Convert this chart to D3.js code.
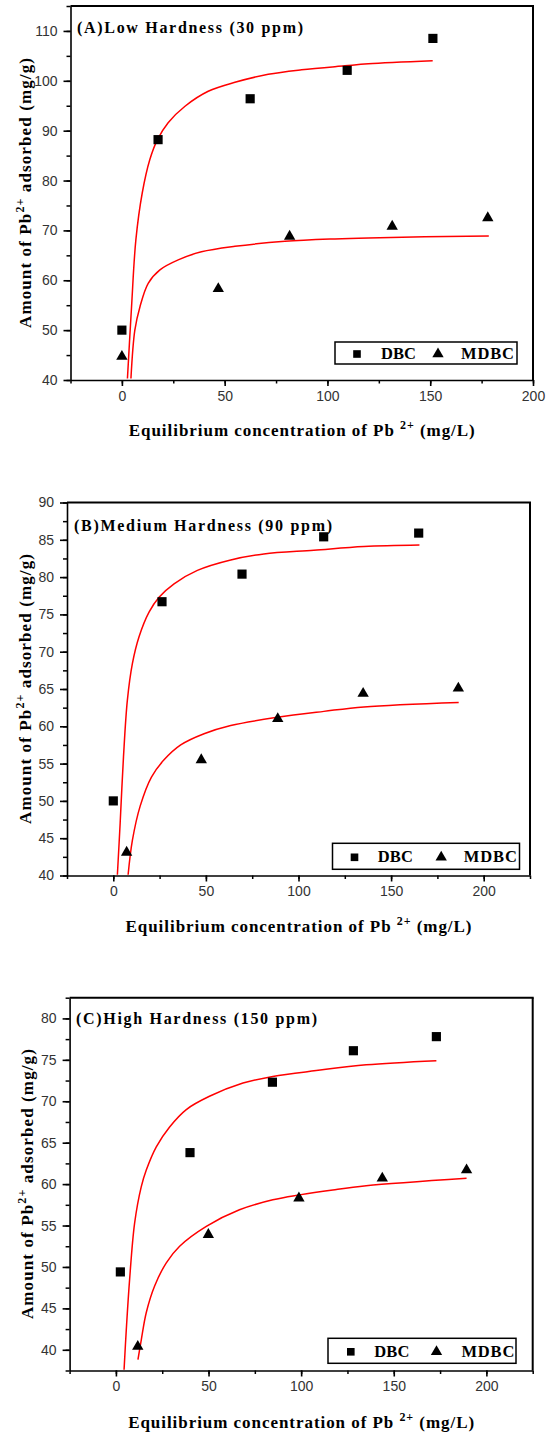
<!DOCTYPE html>
<html>
<head>
<meta charset="utf-8">
<script src="https://cdnjs.cloudflare.com/ajax/libs/d3/7.8.5/d3.min.js"></script>
<style>
  body { margin: 0; background: #fff; }
  .tick text { font-family: "Liberation Sans", Arial, sans-serif; font-size: 14px; fill: #333; }
  .serif { font-family: "Liberation Serif", "Times New Roman", serif; font-weight: bold; fill: #000; }
</style>
</head>
<body>
<div id="chart"></div>
<script>
// panel titles and legend names
var titles = ["(A)Low Hardness (30 ppm)", "(B)Medium Hardness (90 ppm)", "(C)High Hardness (150 ppm)"];
var seriesNames = ["DBC", "MDBC"];

// axis domains and ticks
var xDomainA = [-25, 200], xDomainB = [-25, 225], xDomainC = [-25, 225];
var yDomainA = [40, 115], yDomainB = [40, 90], yDomainC = [37.5, 82.5];
var xTicksA = [0, 50, 100, 150, 200];
var xTicksBC = [0, 50, 100, 150, 200];
var yTicksA = [40, 50, 60, 70, 80, 90, 100, 110];
var yTicksB = [40, 45, 50, 55, 60, 65, 70, 75, 80, 85, 90];
var yTicksC = [40, 45, 50, 55, 60, 65, 70, 75, 80];

// measured points  [Ce, qe]
var dbcA  = [[0, 50], [17.6, 88.2], [62.4, 96.4], [109.6, 102.1], [151.3, 108.5]];
var mdbcA = [[0, 44.7], [46.9, 58.3], [81.6, 68.8], [131.5, 70.8], [178, 72.5]];
var dbcB  = [[0, 50], [26.3, 76.7], [69.5, 80.4], [113.6, 85.4], [164.9, 85.9]];
var mdbcB = [[7.2, 43.1], [47.5, 55.5], [88.8, 61], [134.9, 64.4], [186.3, 65.1]];
var dbcC  = [[2.4, 49.4], [40, 63.8], [84.5, 72.3], [128.2, 76.1], [173, 77.8]];
var mdbcC = [[11.8, 40.4], [49.9, 53.9], [98.8, 58.3], [143.8, 60.7], [189.3, 61.7]];

// fitted curves
var fitDbcA  = [[2.7, 40.3], [4.7, 54.7], [6.8, 68.1], [9.9, 77.5], [13.6, 84.2], [17.3, 88.2], [22.5, 91.6], [30.7, 94.9], [42, 97.9], [55, 99.7], [71.2, 101.3], [87.4, 102.2], [108.5, 103], [119.9, 103.4], [151.2, 104]];
var fitMdbcA = [[4.4, 40.3], [6.3, 50], [8.8, 54.7], [12.8, 59.4], [18.5, 62.1], [27.4, 64.1], [38.7, 65.7], [55, 66.8], [79.3, 67.8], [103.6, 68.3], [119.9, 68.5], [178.5, 68.9]];
var fitDbcB  = [[2.2, 40.1], [3.7, 47], [5.5, 55.9], [7.6, 63.5], [10.3, 68.4], [13.9, 72], [19.3, 75.3], [24.7, 77.3], [32.8, 79.1], [45.4, 80.9], [63.4, 82.3], [81.3, 83.1], [108.3, 83.6], [135.3, 84.1], [165.3, 84.3]];
var fitMdbcB = [[8, 40.1], [10.3, 44.7], [14.5, 49.3], [20.6, 53.2], [27.4, 55.5], [36.4, 57.5], [49, 59], [63.4, 60.1], [88.5, 61.2], [113.7, 62], [135.3, 62.6], [186.5, 63.2]];
var fitDbcC  = [[4.4, 37.6], [5.6, 42.4], [7.4, 48.5], [10.1, 55.3], [13.7, 59.7], [16.4, 61.7], [21.8, 64.5], [29, 66.9], [38, 69], [50.5, 70.6], [68.6, 72.2], [84.7, 73], [108.1, 73.7], [135.1, 74.4], [173, 74.9]];
var fitMdbcC = [[11.9, 38.8], [13.7, 41.2], [16.4, 44.5], [20.9, 47.7], [27.2, 50.5], [34.4, 52.5], [48.8, 54.9], [66.7, 56.9], [84.7, 58.1], [99.1, 58.7], [117.1, 59.3], [135.1, 59.8], [189.3, 60.7]];

var panels = [
  { title: titles[0], dbc: dbcA, mdbc: mdbcA, fitDbc: fitDbcA, fitMdbc: fitMdbcA,
    xDomain: xDomainA, yDomain: yDomainA, xTicks: xTicksA, yTicks: yTicksA, yMinorStep: 5,
    left: 70.5, right: 533, top: 6, bottom: 380, titleX: 77, titleY: 33, titleW: 226,
    xLabelY: 436, yLabelX: 31,
    legend: { x: 335, y: 342, w: 182, h: 22, sq: 22, tri: 103, t1: 46, t2: 126 } },
  { title: titles[1], dbc: dbcB, mdbc: mdbcB, fitDbc: fitDbcB, fitMdbc: fitMdbcB,
    xDomain: xDomainB, yDomain: yDomainB, xTicks: xTicksBC, yTicks: yTicksB, yMinorStep: 2.5,
    left: 67, right: 530, top: 502.5, bottom: 875.5, titleX: 74, titleY: 531, titleW: 258,
    xLabelY: 932, yLabelX: 31,
    legend: { x: 332.5, y: 843.3, w: 187, h: 26, sq: 22, tri: 108.7, t1: 45.3, t2: 131.3 } },
  { title: titles[2], dbc: dbcC, mdbc: mdbcC, fitDbc: fitDbcC, fitMdbc: fitMdbcC,
    xDomain: xDomainC, yDomain: yDomainC, xTicks: xTicksBC, yTicks: yTicksC, yMinorStep: 2.5,
    left: 69.6, right: 532.7, top: 997.7, bottom: 1370.5, titleX: 76, titleY: 1023.5, titleW: 241,
    xLabelY: 1428, yLabelX: 33,
    legend: { x: 328, y: 1338.3, w: 188, h: 25, sq: 22.8, tri: 108.5, t1: 46.3, t2: 133.4 } }
];

var svg = d3.select("#chart")
  .append("svg")
    .attr("width", 547)
    .attr("height", 1435)
    .style("background", "#fff");

var square = d3.symbol().type(d3.symbolSquare).size(84);
var triangle = d3.symbol().type(d3.symbolTriangle).size(56);

panels.forEach(function(p, i) {
  var x = d3.scaleLinear().domain(p.xDomain).range([p.left, p.right]);
  var y = d3.scaleLinear().domain(p.yDomain).range([p.bottom, p.top]);
  var g = svg.append("g");

  g.append("clipPath").attr("id", "clip" + i)
    .append("rect")
      .attr("x", p.left).attr("y", p.top)
      .attr("width", p.right - p.left).attr("height", p.bottom - p.top);

  // minor ticks
  var xMinor = d3.range(p.xDomain[0], p.xDomain[1] + 0.01, 25);
  var yMinor = d3.range(p.yDomain[0] - (p.yDomain[0] % p.yMinorStep), p.yDomain[1] + 0.01, p.yMinorStep)
    .filter(function(v) { return v >= p.yDomain[0]; });

  g.append("g")
    .attr("transform", "translate(0," + p.bottom + ")")
    .call(d3.axisBottom(x).tickValues(xMinor).tickSize(3.5).tickSizeOuter(0).tickFormat(""))
    .call(function(a) { a.select(".domain").remove(); })
    .selectAll("line").attr("stroke", "#000").attr("stroke-width", 1.5);
  g.append("g")
    .attr("transform", "translate(" + p.left + ",0)")
    .call(d3.axisLeft(y).tickValues(yMinor).tickSize(4).tickSizeOuter(0).tickFormat(""))
    .call(function(a) { a.select(".domain").remove(); })
    .selectAll("line").attr("stroke", "#000").attr("stroke-width", 1.5);

  // major axes
  var xa = g.append("g")
    .attr("transform", "translate(0," + p.bottom + ")")
    .call(d3.axisBottom(x).tickValues(p.xTicks).tickSize(6).tickSizeOuter(0).tickPadding(5));
  var ya = g.append("g")
    .attr("transform", "translate(" + p.left + ",0)")
    .call(d3.axisLeft(y).tickValues(p.yTicks).tickSize(7).tickSizeOuter(0).tickPadding(6));
  [xa, ya].forEach(function(a) {
    a.select(".domain").attr("stroke", "#000").attr("stroke-width", 1.6);
    a.selectAll(".tick line").attr("stroke", "#000").attr("stroke-width", 1.6);
  });

  // top and right frame
  g.append("line")
    .attr("x1", p.left).attr("x2", p.right + 1)
    .attr("y1", p.top).attr("y2", p.top)
    .attr("stroke", "#000").attr("stroke-width", 2);
  g.append("line")
    .attr("x1", p.right).attr("x2", p.right)
    .attr("y1", p.top).attr("y2", p.bottom)
    .attr("stroke", "#000").attr("stroke-width", 2);

  // fitted curves
  var line = d3.line()
    .x(function(d) { return x(d[0]); })
    .y(function(d) { return y(d[1]); })
    .curve(d3.curveCatmullRom.alpha(0.5));
  g.append("g").attr("clip-path", "url(#clip" + i + ")")
    .selectAll("path.fit")
    .data([p.fitDbc, p.fitMdbc])
    .enter()
    .append("path")
      .attr("class", "fit")
      .attr("d", line)
      .attr("fill", "none")
      .attr("stroke", "#ff0000")
      .attr("stroke-width", 1.5);

  // points
  g.selectAll("path.dbc")
    .data(p.dbc)
    .enter()
    .append("path")
      .attr("class", "dbc")
      .attr("d", square)
      .attr("transform", function(d) { return "translate(" + x(d[0]) + "," + y(d[1]) + ")"; })
      .attr("fill", "#000");
  g.selectAll("path.mdbc")
    .data(p.mdbc)
    .enter()
    .append("path")
      .attr("class", "mdbc")
      .attr("d", triangle)
      .attr("transform", function(d) { return "translate(" + x(d[0]) + "," + y(d[1]) + ")"; })
      .attr("fill", "#000");

  // title
  g.append("text")
    .attr("class", "serif")
    .attr("x", p.titleX).attr("y", p.titleY)
    .attr("font-size", 16)
    .attr("textLength", p.titleW)
    .attr("lengthAdjust", "spacing")
    .text(p.title);

  // x label
  var xl = g.append("text")
    .attr("class", "serif")
    .attr("x", (p.left + p.right) / 2).attr("y", p.xLabelY)
    .attr("text-anchor", "middle")
    .attr("font-size", 17)
    .attr("textLength", 346)
    .attr("lengthAdjust", "spacing");
  xl.append("tspan").text("Equilibrium concentration of Pb ");
  xl.append("tspan").attr("dy", -7).attr("font-size", 12).text("2+");
  xl.append("tspan").attr("dy", 7).text(" (mg/L)");

  // y label
  var yl = g.append("text")
    .attr("class", "serif")
    .attr("transform", "translate(" + p.yLabelX + "," + ((p.top + p.bottom) / 2) + ") rotate(-90)")
    .attr("text-anchor", "middle")
    .attr("font-size", 17)
    .attr("textLength", 270)
    .attr("lengthAdjust", "spacing");
  yl.append("tspan").text("Amount of Pb");
  yl.append("tspan").attr("dy", -7).attr("font-size", 12).text("2+");
  yl.append("tspan").attr("dy", 7).text(" adsorbed (mg/g)");

  // legend
  var L = p.legend;
  var lg = g.append("g").attr("transform", "translate(" + L.x + "," + L.y + ")");
  lg.append("rect")
    .attr("width", L.w).attr("height", L.h)
    .attr("fill", "#fff").attr("stroke", "#000").attr("stroke-width", 1.5);
  lg.append("path")
    .attr("d", d3.symbol().type(d3.symbolSquare).size(58)())
    .attr("transform", "translate(" + L.sq + "," + (L.h / 2 + 1) + ")");
  lg.append("path")
    .attr("d", d3.symbol().type(d3.symbolTriangle).size(56)())
    .attr("transform", "translate(" + L.tri + "," + (L.h / 2 + 1) + ")");
  lg.append("text").attr("class", "serif")
    .attr("x", L.t1).attr("y", L.h / 2 + 6)
    .attr("font-size", 16.5).attr("textLength", 35).attr("lengthAdjust", "spacing")
    .text(seriesNames[0]);
  lg.append("text").attr("class", "serif")
    .attr("x", L.t2).attr("y", L.h / 2 + 6)
    .attr("font-size", 16.5).attr("textLength", 53).attr("lengthAdjust", "spacing")
    .text(seriesNames[1]);
});
</script>
</body>
</html>
